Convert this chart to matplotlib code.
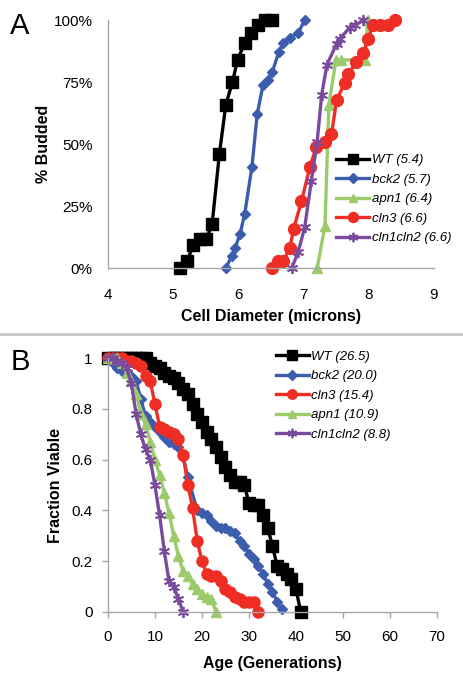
import matplotlib
matplotlib.use("Agg")
import matplotlib.pyplot as plt
from matplotlib.lines import Line2D
from matplotlib.ticker import FuncFormatter

plt.rcParams['font.family'] = ['Liberation Sans', 'DejaVu Sans']

# ---- Panel A: % budded vs cell diameter ----
wt_diam = [5.10, 5.22, 5.31, 5.41, 5.51, 5.60, 5.71, 5.81, 5.91, 5.99, 6.10, 6.20, 6.30, 6.41, 6.51]
wt_budded = [0, 3, 9.5, 11.7, 11.7, 18, 46, 66, 75, 84, 91, 95, 98, 100, 100]

bck2_diam = [5.81, 5.90, 5.95, 6.03, 6.10, 6.21, 6.29, 6.38, 6.45, 6.52, 6.62, 6.69, 6.80, 6.92, 7.02]
bck2_budded = [0, 5, 8, 14, 22, 41, 62, 74, 76, 79, 87, 91, 93, 95, 100]

apn1_diam = [7.21, 7.33, 7.39, 7.50, 7.58, 7.94, 7.99]
apn1_budded = [0, 17, 66, 84, 84, 84, 100]

cln3_diam = [6.51, 6.61, 6.69, 6.79, 6.85, 6.97, 7.10, 7.20, 7.33, 7.43, 7.51, 7.63, 7.69,
             7.81, 7.92, 7.99, 8.07, 8.17, 8.30, 8.40]
cln3_budded = [0, 3, 3, 8, 16, 27, 41, 49, 51, 54, 68, 74.5, 78.5, 83, 86.6, 92.6, 98, 98, 98, 100]

cln12_diam = [6.82, 6.92, 7.02, 7.12, 7.21, 7.28, 7.36, 7.51, 7.56, 7.71, 7.79, 7.92]
cln12_budded = [0, 6.6, 16.6, 35, 51, 70, 82, 90.6, 92.6, 97, 98, 100]

labels_a = ['WT (5.4)', 'bck2 (5.7)', 'apn1 (6.4)', 'cln3 (6.6)', 'cln1cln2 (6.6)']

# ---- Panel B: fraction viable vs replicative age ----
wt_age = list(range(0, 42))
wt_viable = [1, 1, 1, 1, 1, 1, 1, 1, 1, 0.98, 0.97, 0.96, 0.94, 0.93, 0.92, 0.90, 0.88, 0.86,
             0.82, 0.78, 0.75, 0.71, 0.68, 0.65, 0.61, 0.57, 0.54, 0.51, 0.51, 0.50, 0.43, 0.42,
             0.42, 0.38, 0.33, 0.26, 0.18, 0.17, 0.15, 0.13, 0.09, 0]

bck2_age = [0, 1, 2, 3, 4, 5, 6, 7, 8, 9, 10, 11, 12, 13, 14, 15, 16, 17, 19, 20, 21, 22, 23, 24,
            25, 26, 27, 28, 29, 30, 31, 32, 33, 34, 35, 36, 37]
bck2_viable = [1, 0.98, 0.96, 0.95, 0.94, 0.93, 0.91, 0.84, 0.77, 0.75, 0.73, 0.71, 0.69, 0.67,
               0.66, 0.65, 0.61, 0.53, 0.40, 0.39, 0.38, 0.36, 0.34, 0.33, 0.33, 0.32, 0.31,
               0.28, 0.26, 0.23, 0.21, 0.18, 0.15, 0.11, 0.08, 0.04, 0.01]

cln3_age = list(range(0, 33))
cln3_viable = [1, 1, 1, 1, 0.99, 0.99, 0.98, 0.97, 0.93, 0.91, 0.82, 0.73, 0.72, 0.71, 0.70, 0.68,
               0.62, 0.50, 0.41, 0.28, 0.20, 0.15, 0.14, 0.14, 0.12, 0.09, 0.08, 0.06, 0.05, 0.04,
               0.04, 0.04, 0]

apn1_age = list(range(0, 24))
apn1_viable = [1, 1, 1, 0.98, 0.94, 0.91, 0.86, 0.78, 0.74, 0.67, 0.60, 0.54, 0.47, 0.39, 0.30,
               0.22, 0.16, 0.14, 0.11, 0.09, 0.07, 0.06, 0.05, 0]

cln12_age = list(range(0, 17))
cln12_viable = [1, 1, 0.99, 0.98, 0.96, 0.90, 0.78, 0.70, 0.64, 0.60, 0.50, 0.38, 0.24, 0.12,
                0.10, 0.05, 0]

labels_b = ['WT (26.5)', 'bck2 (20.0)', 'cln3 (15.4)', 'apn1 (10.9)', 'cln1cln2 (8.8)']

# styles
black = '#000000'
blue = '#3C5DAE'
red = '#EE2E24'
green = '#9BCB6A'
purple = '#7A4B9D'
axis_gray = '#A6A6A6'
star = (6, 2, 0)
lw = 2.4

fig = plt.figure(figsize=(4.63, 6.86), dpi=100)

# ---------- panel A ----------
ax1 = fig.add_axes([0.233, 0.609, 0.704, 0.3615])
ax1.plot(wt_diam, wt_budded, color=black, lw=lw, marker='s', ms=8.5, label=labels_a[0])
ax1.plot(bck2_diam, bck2_budded, color=blue, lw=lw, marker='D', ms=5.5, label=labels_a[1])
ax1.plot(apn1_diam, apn1_budded, color=green, lw=lw, marker='^', ms=7.5, label=labels_a[2])
ax1.plot(cln3_diam, cln3_budded, color=red, lw=lw, marker='o', ms=8.5, label=labels_a[3])
ax1.plot(cln12_diam, cln12_budded, color=purple, lw=lw, marker=star, ms=8, mew=1.3,
         label=labels_a[4])

ax1.set_xlim(4, 9)
ax1.set_ylim(0, 100)
ax1.set_xticks([4, 5, 6, 7, 8, 9])
ax1.set_yticks([0, 25, 50, 75, 100])
ax1.yaxis.set_major_formatter(FuncFormatter(lambda v, p: f'{int(v)}%'))
ax1.tick_params(length=0, labelsize=11)
ax1.tick_params(axis='y', pad=11)
ax1.tick_params(axis='x', pad=14)
ax1.set_xlabel('Cell Diameter (microns)', fontsize=11.5, fontweight='bold', labelpad=5)
ax1.set_ylabel('% Budded', fontsize=11.5, fontweight='bold', labelpad=2)

leg1 = ax1.legend(loc='upper left', bbox_to_anchor=(0.70, 0.46), frameon=False,
                  fontsize=9.5, handlelength=2.5, handletextpad=0.2, labelspacing=0.55,
                  borderaxespad=0, borderpad=0, markerscale=0.85)
for t in leg1.get_texts():
    t.set_fontstyle('italic')

# ---------- panel B ----------
ax2 = fig.add_axes([0.233, 0.108, 0.711, 0.370])
ax2.plot(wt_age, wt_viable, color=black, lw=lw, marker='s', ms=8.5, label=labels_b[0])
ax2.plot(bck2_age, bck2_viable, color=blue, lw=lw, marker='D', ms=5.5, label=labels_b[1])
ax2.plot(cln3_age, cln3_viable, color=red, lw=lw, marker='o', ms=8, label=labels_b[2])
ax2.plot(apn1_age, apn1_viable, color=green, lw=lw, marker='^', ms=7.5, label=labels_b[3])
ax2.plot(cln12_age, cln12_viable, color=purple, lw=lw, marker=star, ms=8, mew=1.3,
         label=labels_b[4])

ax2.set_xlim(0, 70)
ax2.set_ylim(0, 1)
ax2.set_xticks(range(0, 71, 10))
ax2.set_yticks([0, 0.2, 0.4, 0.6, 0.8, 1])
ax2.yaxis.set_major_formatter(FuncFormatter(lambda v, p: f'{v:g}'))
ax2.tick_params(length=4, width=1, color=axis_gray, labelsize=11)
ax2.tick_params(axis='y', pad=7)
ax2.tick_params(axis='x', pad=9)
ax2.set_xlabel('Age (Generations)', fontsize=11.5, fontweight='bold', labelpad=9)
ax2.set_ylabel('Fraction Viable', fontsize=11.5, fontweight='bold', labelpad=6)

leg2 = ax2.legend(loc='upper left', bbox_to_anchor=(0.51, 1.03), frameon=False,
                  fontsize=9.5, handlelength=2.5, handletextpad=0.2, labelspacing=0.55,
                  borderaxespad=0, borderpad=0, markerscale=0.85)
for t in leg2.get_texts():
    t.set_fontstyle('italic')

for ax in (ax1, ax2):
    for side in ('top', 'right'):
        ax.spines[side].set_visible(False)
    for side in ('left', 'bottom'):
        ax.spines[side].set_color(axis_gray)
        ax.spines[side].set_linewidth(1)
    for line in ax.get_lines():
        line.set_clip_on(False)

# panel letters and separator
fig.text(0.022, 0.962, 'A', fontsize=21, va='center', ha='left')
fig.text(0.022, 0.472, 'B', fontsize=21, va='center', ha='left')
fig.add_artist(Line2D([0, 1], [1 - 334 / 686] * 2, color='#C8C8C8', lw=2))

fig.savefig('out.png', dpi=100)
